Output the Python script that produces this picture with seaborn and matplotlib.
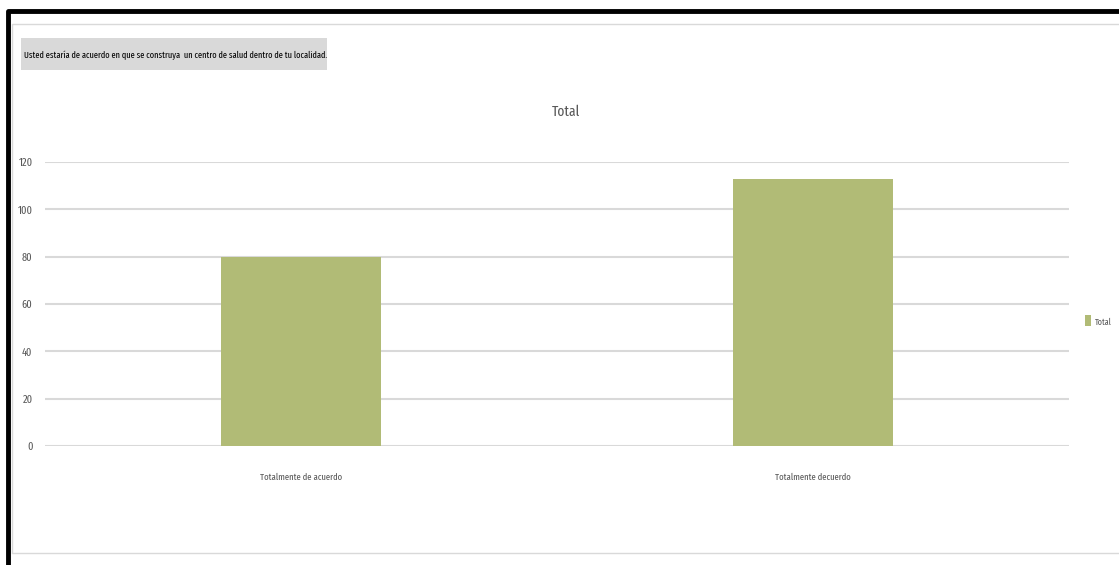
import matplotlib
matplotlib.use("Agg")
import matplotlib.pyplot as plt
import seaborn as sns
from matplotlib import font_manager
from matplotlib.patches import Rectangle
from matplotlib.lines import Line2D

# datos
categorias = ["Totalmente de acuerdo", "Totalmente decuerdo"]
valores = [80, 113]
serie = "Total"
pregunta = "Usted estaría de acuerdo en que se construya  un centro de salud dentro de tu localidad."

sns.set_style("white")
nombres = {f.name for f in font_manager.fontManager.ttflist}
fuente = "DejaVu Sans"
for cand in ["Fira Sans Extra Condensed", "Barlow Condensed", "Asap Condensed", "Carlito"]:
    if cand in nombres:
        fuente = cand
        break
plt.rcParams["font.family"] = [fuente, "DejaVu Sans"]

verde = "#b1bb76"
gris_txt = "#595959"

W, H = 1119, 565
fig = plt.figure(figsize=(W / 100, H / 100), dpi=100)
ax = fig.add_axes([45 / W, (H - 446) / H, 1024 / W, 284 / H])

sns.barplot(x=categorias, y=valores, color=verde, width=0.314, ax=ax,
            saturation=1, label=serie, linewidth=0)
ax.set_ylim(0, 120)
ax.set_xlim(-0.5, 1.5)
ax.set_yticks(range(0, 121, 20))
ax.yaxis.grid(True, color="#d9d9d9", linewidth=1.5)
ax.set_axisbelow(True)
for s in ax.spines.values():
    s.set_visible(False)
ax.tick_params(axis="y", length=0, pad=9, labelsize=10, labelcolor=gris_txt)
ax.tick_params(axis="x", length=0, pad=19, labelsize=11, labelcolor=gris_txt)
ax.set_xlabel("")
ax.set_ylabel("")

titulo = fig.text(566 / W, 1 - 112 / H, "Total", ha="center", va="center",
                  fontsize=16, color=gris_txt)

# leyenda
ley = ax.legend(loc="center left", bbox_to_anchor=(1072 / W, 1 - 321 / H),
                bbox_transform=fig.transFigure, frameon=False, fontsize=10,
                handlelength=0.45, handleheight=0.9, handletextpad=0.3,
                labelcolor=gris_txt)

# recuadro de la pregunta
fig.patches.append(Rectangle((21 / W, 1 - 70 / H), 306 / W, 32 / H,
                             transform=fig.transFigure, facecolor="#d9d9d9",
                             edgecolor="none", zorder=0))
texto_p = fig.text(24 / W, 1 - 55 / H, pregunta, ha="left", va="center",
                   fontsize=9, color="black")

# ajustar tamaños de letra al ancho de la referencia
rend = fig.canvas.get_renderer()
def ajustar(t, ancho):
    w = t.get_window_extent(rend).width
    t.set_fontsize(t.get_fontsize() * ancho / w)

ajustar(texto_p, 300)
ajustar(titulo, 28)
ajustar(ley.get_texts()[0], 17)
ancho_x = ax.get_xticklabels()[0].get_window_extent(rend).width
ax.tick_params(axis="x", labelsize=11 * 82 / ancho_x)
ancho_y = ax.get_yticklabels()[-1].get_window_extent(rend).width
ax.tick_params(axis="y", labelsize=10 * 14 / ancho_y)

# marcos
fig.lines.append(Line2D([12 / W, 12 / W, 1], [1 - 553 / H, 1 - 24 / H, 1 - 24 / H],
                        transform=fig.transFigure, color="#d9d9d9", linewidth=1))
fig.lines.append(Line2D([12 / W, 1], [1 - 553 / H, 1 - 553 / H],
                        transform=fig.transFigure, color="#d9d9d9", linewidth=1))
fig.lines.append(Line2D([7.5 / W, 7.5 / W, 1], [0, 1 - 11 / H, 1 - 11 / H],
                        transform=fig.transFigure, color="black", linewidth=3.5))

fig.savefig("out.png", dpi=100)
